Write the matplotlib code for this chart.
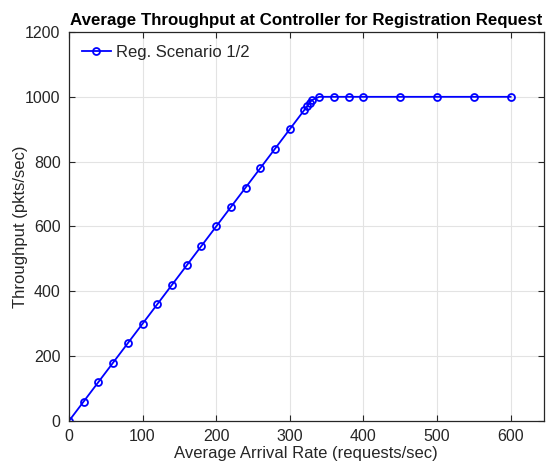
import matplotlib
matplotlib.use("Agg")
import matplotlib.pyplot as plt

plt.rcParams['font.family'] = ['Liberation Sans', 'DejaVu Sans']
plt.rcParams['text.color'] = '#262626'
plt.rcParams['axes.labelcolor'] = '#262626'
plt.rcParams['xtick.color'] = '#262626'
plt.rcParams['ytick.color'] = '#262626'

# data
arrival_rate = [0, 20, 40, 60, 80, 100, 120, 140, 160, 180, 200, 220, 240, 260, 280, 300,
                320, 324, 327, 330, 340, 360, 380, 400, 450, 500, 550, 600]
throughput = [0, 60, 120, 180, 240, 300, 360, 420, 480, 540, 600, 660, 720, 780, 840, 900,
              960, 972, 981, 990, 1000, 1000, 1000, 1000, 1000, 1000, 1000, 1000]

fig = plt.figure(figsize=(5.47, 4.67), dpi=100)
ax = fig.add_axes([0.126, 0.0985, 0.868, 0.833])

ax.plot(arrival_rate, throughput, color='#0000ff', marker='o', markersize=5,
        markerfacecolor='none', markeredgewidth=1.3, linewidth=1.3, label='Reg. Scenario 1/2')

ax.set_xlim(0, 645)
ax.set_ylim(0, 1200)
ax.set_xticks(range(0, 601, 100))
ax.set_yticks(range(0, 1201, 200))
ax.grid(True, color='#e3e3e3', linewidth=0.8)
ax.set_axisbelow(True)
ax.tick_params(direction='in', top=True, right=True, labelsize=11.5, length=4, pad=6)
for s in ax.spines.values():
    s.set_linewidth(0.9)
    s.set_color('#262626')

ax.set_xlabel("Average Arrival Rate (requests/sec)", fontsize=12, labelpad=1)
ax.set_ylabel("Throughput (pkts/sec)", fontsize=12, labelpad=-2)
ax.set_title("Average Throughput at Controller for Registration Request", fontsize=12.2,
             fontweight='bold', pad=5, color='black')

ax.legend(loc='upper left', fontsize=12, frameon=False, handlelength=1.7, handletextpad=0.3,
          borderaxespad=0.4)

fig.savefig("out.png", dpi=100)
